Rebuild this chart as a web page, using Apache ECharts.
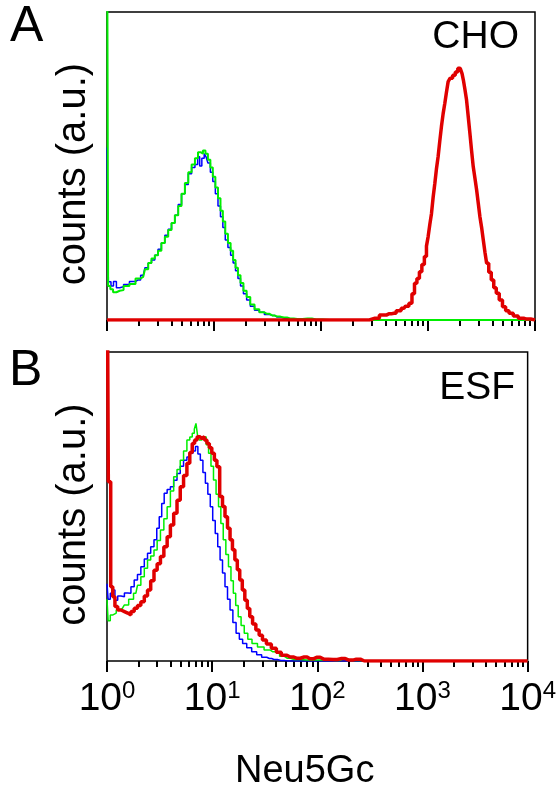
<!DOCTYPE html>
<html>
<head>
<meta charset="utf-8">
<script src="https://cdn.jsdelivr.net/npm/echarts@6/dist/echarts.min.js"></script>
<style>
  html, body { margin: 0; padding: 0; background: #fff; }
  #chart { width: 559px; height: 790px; }
</style>
</head>
<body>
<div id="chart"></div>
<script>
const xMajor = [1, 10, 100, 1000, 10000];
const xMinor = [2,3,4,5,6,7,8,9,20,30,40,50,60,70,80,90,200,300,400,500,600,700,800,900,2000,3000,4000,5000,6000,7000,8000,9000];

// Panel A (CHO)
const aBlue = [[1,56],[1.06,12.4],[1.12,11],[1.18,12.5],[1.27,10.5],[1.36,10.8],[1.5,11.5],[1.75,12.5],[1.95,13],[2.18,14.5],[2.35,17],[2.51,18.5],[2.7,19.5],[2.9,21],[3.1,23],[3.35,25],[3.6,27.5],[3.87,29.5],[4.15,31.5],[4.47,34],[4.8,37.5],[5.15,41],[5.55,44],[5.96,47.5],[6.4,49.5],[6.88,50.5],[7.2,53],[7.5,50],[7.9,52.5],[8.3,54],[8.55,53],[9.0,51],[9.5,48],[10.0,45],[10.6,41],[11.2,37],[11.8,33.5],[12.4,30],[13.1,26],[13.9,23.5],[14.7,21],[15.5,18.5],[16.3,16],[17.2,13.5],[18.2,11],[19.5,8.5],[20.9,6.5],[22.8,4.5],[25.1,3.2],[28,2.5],[31.2,1.8],[35,1.5],[38.7,1],[45,0.6],[51.5,0.3],[60,0],[10000,0]];
const aGreen = [[1,150],[1.05,11],[1.1,10],[1.18,9],[1.27,9.5],[1.36,9.7],[1.5,11],[1.75,11.7],[1.95,13.5],[2.18,14],[2.35,16.5],[2.51,18.5],[2.7,20],[2.9,21],[3.1,22.5],[3.35,25],[3.6,27],[3.87,29.2],[4.15,31.5],[4.47,34],[4.8,37],[5.15,41],[5.55,44.5],[5.96,48],[6.4,50.5],[6.88,52.5],[7.3,54.5],[7.67,54],[8.1,55],[8.55,54],[9.0,52],[9.5,49.5],[10.0,46.5],[10.6,43],[11.2,39.5],[11.8,35.5],[12.4,32],[13.1,28],[13.9,25],[14.7,22.5],[15.5,19.5],[16.3,17],[17.2,14.5],[18.2,12],[19.5,9.5],[20.9,7.5],[22.8,5],[25.1,3.5],[28,2.5],[31.2,2],[35,1.5],[38.7,1.1],[45,0.8],[51.5,0.5],[60,0.3],[75,0.5],[90,0.2],[120,0],[10000,0]];
const aRed = [[1,0],[250,0],[320,0.6],[386,1.6],[430,2],[479,2.2],[530,3],[594,3.8],[640,4.5],[687,5.4],[730,8.5],[766,11.9],[810,13.5],[853,15.7],[900,18],[950,20.6],[985,24],[1020,27],[1060,31],[1097,34.6],[1140,40],[1178,44.4],[1220,49],[1266,53],[1310,58],[1361,62.8],[1410,67],[1463,70.4],[1515,74],[1571,77.4],[1650,78.5],[1750,79.5],[1850,80.5],[1950,81.7],[2052,82.2],[2110,80],[2172,77.9],[2250,75],[2336,71.4],[2420,66],[2509,60.6],[2600,55],[2693,49.8],[2800,46],[2897,42.2],[3000,38],[3113,33.5],[3230,30],[3344,26],[3470,22],[3594,18.4],[3800,15.5],[4006,13],[4230,10.5],[4467,8.7],[4800,6.5],[5140,4.3],[5500,3],[5943,2.2],[6600,1.3],[7375,0.6],[8300,0.3],[10000,0]];

// Panel B (ESF)
const bBlue = [[1,25],[1.05,20],[1.1,21.9],[1.16,23],[1.22,19.7],[1.31,21],[1.41,20.8],[1.52,22],[1.63,21.9],[1.75,24],[1.88,26.2],[2.02,28],[2.18,30.5],[2.35,33],[2.51,34.9],[2.7,37],[2.9,39.2],[3.05,43],[3.23,46.7],[3.4,51],[3.6,54.3],[3.87,55.5],[4.15,56.4],[4.47,58.5],[4.8,60.7],[5.15,63],[5.55,65],[5.96,66],[6.4,67.2],[6.75,68],[7.13,69.4],[7.5,67],[7.94,65],[8.4,61],[8.85,57.5],[9.35,54],[9.85,49.9],[10.4,45.5],[11,41.3],[11.6,37],[12.2,32.7],[12.9,28.5],[13.6,24],[14.4,20],[15.2,16.5],[16.3,12.5],[17.5,9],[18.8,7],[20.2,5.7],[22.5,4.3],[25.1,3],[28,2],[31.2,1.2],[35,0.8],[38.7,0.5],[45,0.2],[52,0],[10000,0]];
const bGreen = [[1,20],[1.05,13],[1.1,14.9],[1.18,15.5],[1.27,16.5],[1.4,17],[1.52,18.1],[1.7,20],[1.88,21.9],[2.02,24.5],[2.18,27.3],[2.35,30],[2.51,32.7],[2.7,34],[2.9,35.9],[3.1,39],[3.35,42.4],[3.6,46],[3.87,49.9],[4.15,55],[4.47,59.6],[4.8,62],[5.15,65],[5.55,68],[5.96,71.5],[6.3,72.5],[6.63,73.7],[6.9,75],[7.13,76.9],[7.4,73],[7.67,71.5],[8.1,72],[8.55,72.6],[9.0,70],[9.5,67.2],[10.0,63],[10.6,58.6],[11.2,54],[11.8,49.9],[12.4,44.5],[13.1,39.2],[13.9,34.5],[14.7,30.5],[15.5,26],[16.3,21.9],[17.2,18],[18.2,14.3],[19.5,11.5],[20.9,9],[22.8,7],[25.1,5.7],[29,4.5],[33.5,3.6],[37.5,3],[41.7,2.5],[46,1.5],[51.5,0.9],[60,0.5],[80,0.3],[110,0.3],[150,0.2],[180,0.8],[200,0.2],[300,0],[10000,0]];
const bRed = [[1,150],[1.06,58],[1.11,24],[1.16,20.8],[1.22,17.6],[1.31,16.5],[1.41,16],[1.52,15.5],[1.63,14.9],[1.75,16],[1.88,17.1],[2.02,18],[2.18,19.2],[2.35,21],[2.51,23],[2.7,26],[2.9,29.4],[3.1,31.5],[3.35,33.8],[3.6,37],[3.87,40.2],[4.15,44],[4.47,47.8],[4.8,52],[5.15,56.4],[5.55,60],[5.96,64],[6.3,67.5],[6.63,70.4],[7.0,71.5],[7.4,72.6],[7.8,72],[8.2,72.6],[8.7,71.5],[9.15,70.4],[9.65,69],[10.2,67.2],[10.8,65],[11.4,62.9],[12.2,53.2],[12.9,50],[13.6,46.7],[14.4,43],[15.2,39.2],[16,36],[16.9,32.7],[17.8,29.5],[18.8,26.2],[19.9,23],[21,19.7],[22.2,17],[23.4,14.3],[25.1,12],[27,10],[29,8.3],[31.2,6.8],[34.5,5.5],[38.7,4.1],[43,2.8],[48,1.9],[55,1.3],[63.3,0.9],[75,1.3],[85,0.7],[98.5,1.2],[115,0.6],[141,0.5],[170,0.8],[200,0.3],[235,0.6],[280,0],[10000,0]];

const FONT = '"Liberation Sans", Arial, Helvetica, sans-serif';
const BLUE = '#0000ff', GREEN = '#00ee00', RED = '#e00000';

function xAxisDef(gridIndex, ticks, len, withLabels) {
  return {
    gridIndex, type: 'log', logBase: 10, min: 1, max: 10000, position: 'bottom',
    axisLine: { show: false },
    splitLine: { show: false },
    axisTick: { show: true, inside: false, length: len, customValues: ticks,
      lineStyle: { color: '#000', width: 2 } },
    axisLabel: withLabels ? {
      show: true, customValues: ticks, margin: 18,
      formatter: v => '{b|10}{s|' + Math.round(Math.log10(v)) + '}',
      rich: {
        b: { fontSize: 39, fontFamily: FONT, color: '#000', lineHeight: 40 },
        s: { fontSize: 24, fontFamily: FONT, color: '#000', verticalAlign: 'top' }
      }
    } : { show: false }
  };
}
function yAxisDef(gridIndex) {
  return {
    gridIndex, type: 'value', min: 0, max: 100,
    axisLine: { show: false }, axisTick: { show: false }, axisLabel: { show: false },
    splitLine: { show: false },
    name: 'counts (a.u.)', nameLocation: 'middle', nameRotate: 90, nameGap: 13,
    nameTextStyle: { fontSize: 40, fontFamily: FONT, color: '#000', padding: [0, 16, 0, 0] }
  };
}
function lineSeries(data, color, width, xi, yi) {
  return {
    type: 'line', data, xAxisIndex: xi, yAxisIndex: yi, step: 'middle',
    showSymbol: false, symbol: 'none', animation: false,
    lineStyle: { color, width }, z: 3
  };
}

const chart = echarts.init(document.getElementById('chart'), null, { renderer: 'canvas' });
chart.setOption({
  animation: false,
  backgroundColor: '#fff',
  grid: [
    { left: 107, right: 24, top: 12, height: 308, show: true, borderColor: '#000', borderWidth: 1.5, backgroundColor: 'transparent' },
    { left: 107, right: 24, top: 352, height: 309, show: true, borderColor: '#000', borderWidth: 1.5, backgroundColor: 'transparent' }
  ],
  xAxis: [
    xAxisDef(0, xMajor, 11, false),
    xAxisDef(0, xMinor, 6, false),
    xAxisDef(1, xMajor, 11, true),
    xAxisDef(1, xMinor, 6, false)
  ],
  yAxis: [yAxisDef(0), yAxisDef(1)],
  series: [
    lineSeries(aBlue, BLUE, 1.5, 0, 0),
    lineSeries(aGreen, GREEN, 2, 0, 0),
    lineSeries(aRed, RED, 3.5, 0, 0),
    lineSeries(bBlue, BLUE, 1.5, 2, 1),
    lineSeries(bGreen, GREEN, 1.5, 2, 1),
    lineSeries(bRed, RED, 3.5, 2, 1)
  ],
  graphic: [
    { type: 'text', left: 10, top: 2, style: { text: 'A', font: '50px ' + FONT, fill: '#000' } },
    { type: 'text', left: 9, top: 346, style: { text: 'B', font: '50px ' + FONT, fill: '#000' } },
    { type: 'text', right: 40, top: 18, style: { text: 'CHO', font: '39px ' + FONT, fill: '#000' } },
    { type: 'text', right: 44, top: 369, style: { text: 'ESF', font: '39px ' + FONT, fill: '#000' } },
    { type: 'text', left: 235, top: 753, style: { text: 'Neu5Gc', font: '38px ' + FONT, fill: '#000' } }
  ]
});
</script>
</body>
</html>
